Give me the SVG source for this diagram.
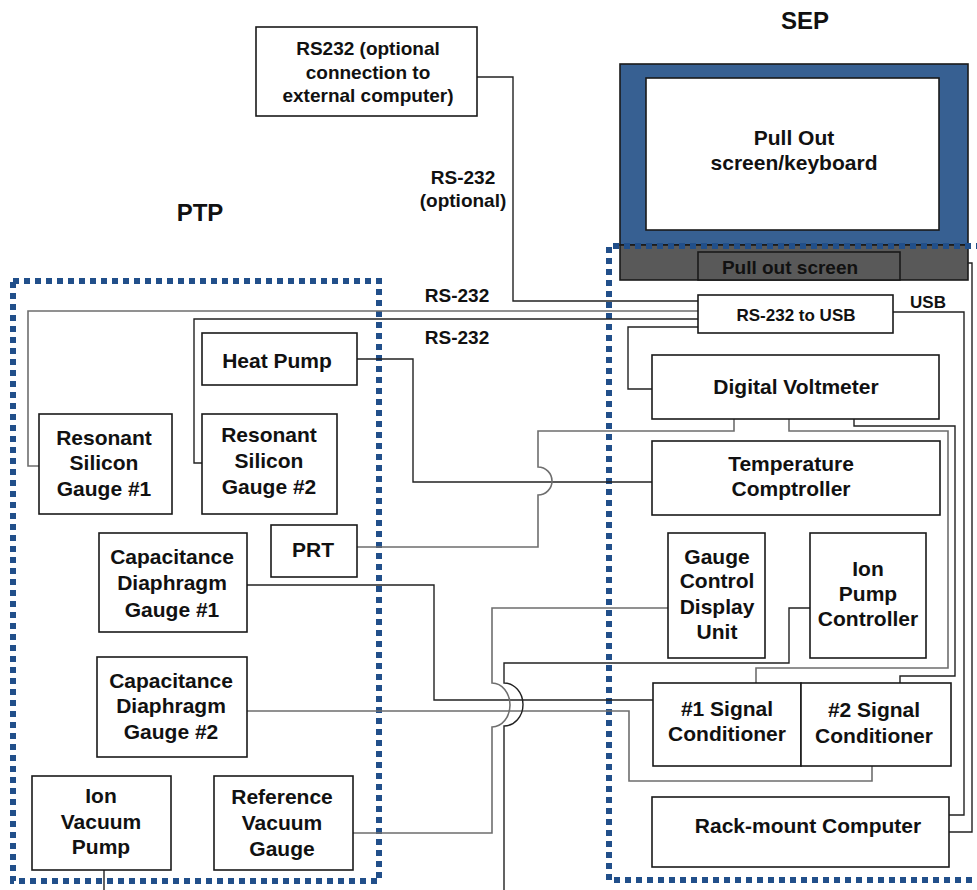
<svg xmlns="http://www.w3.org/2000/svg" width="977" height="890" viewBox="0 0 977 890">
  <style>
    .box { fill: #ffffff; stroke: #1a1a1a; stroke-width: 1.6; }
    .t { font-family: "Liberation Sans", Arial, sans-serif; font-weight: bold; font-size: 21px; fill: #111; text-anchor: middle; }
    .ts { font-size: 19px; }
    .tx { font-size: 17px; }
    .th { font-size: 24px; }
    .w { fill: none; stroke: #222; stroke-width: 1.4; }
    .g { fill: none; stroke: #6e6e6e; stroke-width: 1.6; }
    .zone { fill: none; stroke: #214f8a; stroke-width: 6; stroke-dasharray: 6 5; }
  </style>

  <!-- section headings -->
  <text class="t th" x="805" y="29">SEP</text>
  <text class="t th" x="200" y="221">PTP</text>

  <!-- pull-out screen / keyboard unit -->
  <g id="sep-screen">
    <rect x="620" y="64" width="348" height="181" fill="#376092" stroke="#1a1a1a" stroke-width="1.6"/>
    <rect class="box" x="646" y="78" width="293" height="152"/>
    <text class="t" x="794" y="145">Pull Out</text>
    <text class="t" x="794" y="170">screen/keyboard</text>
  </g>
  <g id="pullout-drawer">
    <rect x="620" y="245" width="348" height="35" fill="#595959" stroke="#1a1a1a" stroke-width="1.6"/>
    <rect x="698" y="252" width="202" height="28" fill="#595959" stroke="#1a1a1a" stroke-width="1.6"/>
    <text class="t ts" x="790" y="274">Pull out screen</text>
  </g>

  <!-- enclosure outlines -->
  <rect class="zone" x="13" y="281" width="366" height="600"/>
  <path class="zone" d="M 982 246 H 609 V 880 H 982"/>

  <!-- connectors -->
  <g id="connectors">
    <path class="w" d="M 477 77 H 513 V 301 H 698"/>
    <path class="g" d="M 39 466 H 28 V 311 H 698"/>
    <path class="w" d="M 202 463 H 194 V 319 H 698"/>
    <path class="w" d="M 698 327 H 628 V 389 H 652"/>
    <path class="w" d="M 893 312 H 964 V 815 H 949"/>
    <path class="w" d="M 968 263 H 972 V 832 H 949"/>
    <path class="w" d="M 357 359 H 413 V 482 H 652"/>
    <path class="g" d="M 357 547 H 538 V 495 A 14 14 0 0 0 538 467 V 431 H 734 V 419"/>
    <path class="g" d="M 789 419 V 431 H 948 V 668 H 756 V 683"/>
    <path class="w" d="M 854 419 V 426 H 955 V 676 H 900 V 683"/>
    <path class="w" d="M 247 585 H 434 V 700 H 653"/>
    <path class="g" d="M 247 711 H 629 V 781 H 872 V 766"/>
    <path class="g" d="M 353 833 H 492 V 727 A 18 22 0 0 0 492 683 V 608 H 668"/>
    <path class="w" d="M 104 870 V 890"/>
    <path class="w" d="M 504 890 V 726 A 19 21.5 0 0 0 504 683 V 663 H 789 V 608 H 810"/>
  </g>

  <!-- labels on links -->
  <text class="t ts" x="463" y="184">RS-232</text>
  <text class="t ts" x="463" y="207">(optional)</text>
  <text class="t ts" x="457" y="302">RS-232</text>
  <text class="t ts" x="457" y="344">RS-232</text>
  <text class="t tx" x="928" y="308">USB</text>

  <g id="rs232-external">
    <rect class="box" x="256" y="27" width="221" height="89"/>
    <text class="t ts" x="368" y="55">RS232 (optional</text>
    <text class="t ts" x="368" y="79">connection to</text>
    <text class="t ts" x="368" y="102">external computer)</text>
  </g>

  <!-- PTP side -->
  <g id="heat-pump">
    <rect class="box" x="202" y="333" width="155" height="52"/>
    <text class="t" x="277" y="368">Heat Pump</text>
  </g>
  <g id="rsg1">
    <rect class="box" x="39" y="414" width="133" height="100"/>
    <text class="t" x="104" y="445">Resonant</text>
    <text class="t" x="104" y="470">Silicon</text>
    <text class="t" x="104" y="496">Gauge #1</text>
  </g>
  <g id="rsg2">
    <rect class="box" x="202" y="414" width="135" height="100"/>
    <text class="t" x="269" y="442">Resonant</text>
    <text class="t" x="269" y="468">Silicon</text>
    <text class="t" x="269" y="494">Gauge #2</text>
  </g>
  <g id="prt">
    <rect class="box" x="271" y="525" width="86" height="52"/>
    <text class="t" x="313" y="557">PRT</text>
  </g>
  <g id="cdg1">
    <rect class="box" x="99" y="533" width="148" height="99"/>
    <text class="t" x="172" y="564">Capacitance</text>
    <text class="t" x="172" y="590">Diaphragm</text>
    <text class="t" x="172" y="617">Gauge #1</text>
  </g>
  <g id="cdg2">
    <rect class="box" x="97" y="657" width="150" height="100"/>
    <text class="t" x="171" y="688">Capacitance</text>
    <text class="t" x="171" y="713">Diaphragm</text>
    <text class="t" x="171" y="739">Gauge #2</text>
  </g>
  <g id="ion-vacuum-pump">
    <rect class="box" x="32" y="776" width="139" height="94"/>
    <text class="t" x="101" y="803">Ion</text>
    <text class="t" x="101" y="829">Vacuum</text>
    <text class="t" x="101" y="854">Pump</text>
  </g>
  <g id="reference-gauge">
    <rect class="box" x="214" y="776" width="139" height="94"/>
    <text class="t" x="282" y="804">Reference</text>
    <text class="t" x="282" y="830">Vacuum</text>
    <text class="t" x="282" y="856">Gauge</text>
  </g>

  <!-- SEP side -->
  <g id="rs232-usb">
    <rect class="box" x="698" y="295" width="195" height="38"/>
    <text class="t tx" x="796" y="321">RS-232 to USB</text>
  </g>
  <g id="dvm">
    <rect class="box" x="652" y="355" width="287" height="64"/>
    <text class="t" x="796" y="394">Digital Voltmeter</text>
  </g>
  <g id="temp-controller">
    <rect class="box" x="652" y="441" width="288" height="74"/>
    <text class="t" x="791" y="471">Temperature</text>
    <text class="t" x="791" y="496">Comptroller</text>
  </g>
  <g id="gauge-control">
    <rect class="box" x="668" y="533" width="97" height="125"/>
    <text class="t" x="717" y="564">Gauge</text>
    <text class="t" x="717" y="588">Control</text>
    <text class="t" x="717" y="614">Display</text>
    <text class="t" x="717" y="639">Unit</text>
  </g>
  <g id="ion-pump-controller">
    <rect class="box" x="810" y="533" width="116" height="125"/>
    <text class="t" x="868" y="576">Ion</text>
    <text class="t" x="868" y="601">Pump</text>
    <text class="t" x="868" y="626">Controller</text>
  </g>
  <g id="signal-cond-1">
    <rect class="box" x="653" y="683" width="148" height="83"/>
    <text class="t" x="727" y="716">#1 Signal</text>
    <text class="t" x="727" y="741">Conditioner</text>
  </g>
  <g id="signal-cond-2">
    <rect class="box" x="801" y="683" width="150" height="83"/>
    <text class="t" x="874" y="717">#2 Signal</text>
    <text class="t" x="874" y="743">Conditioner</text>
  </g>
  <g id="rack-computer">
    <rect class="box" x="652" y="797" width="297" height="70"/>
    <text class="t" x="808" y="833">Rack-mount Computer</text>
  </g>
</svg>
